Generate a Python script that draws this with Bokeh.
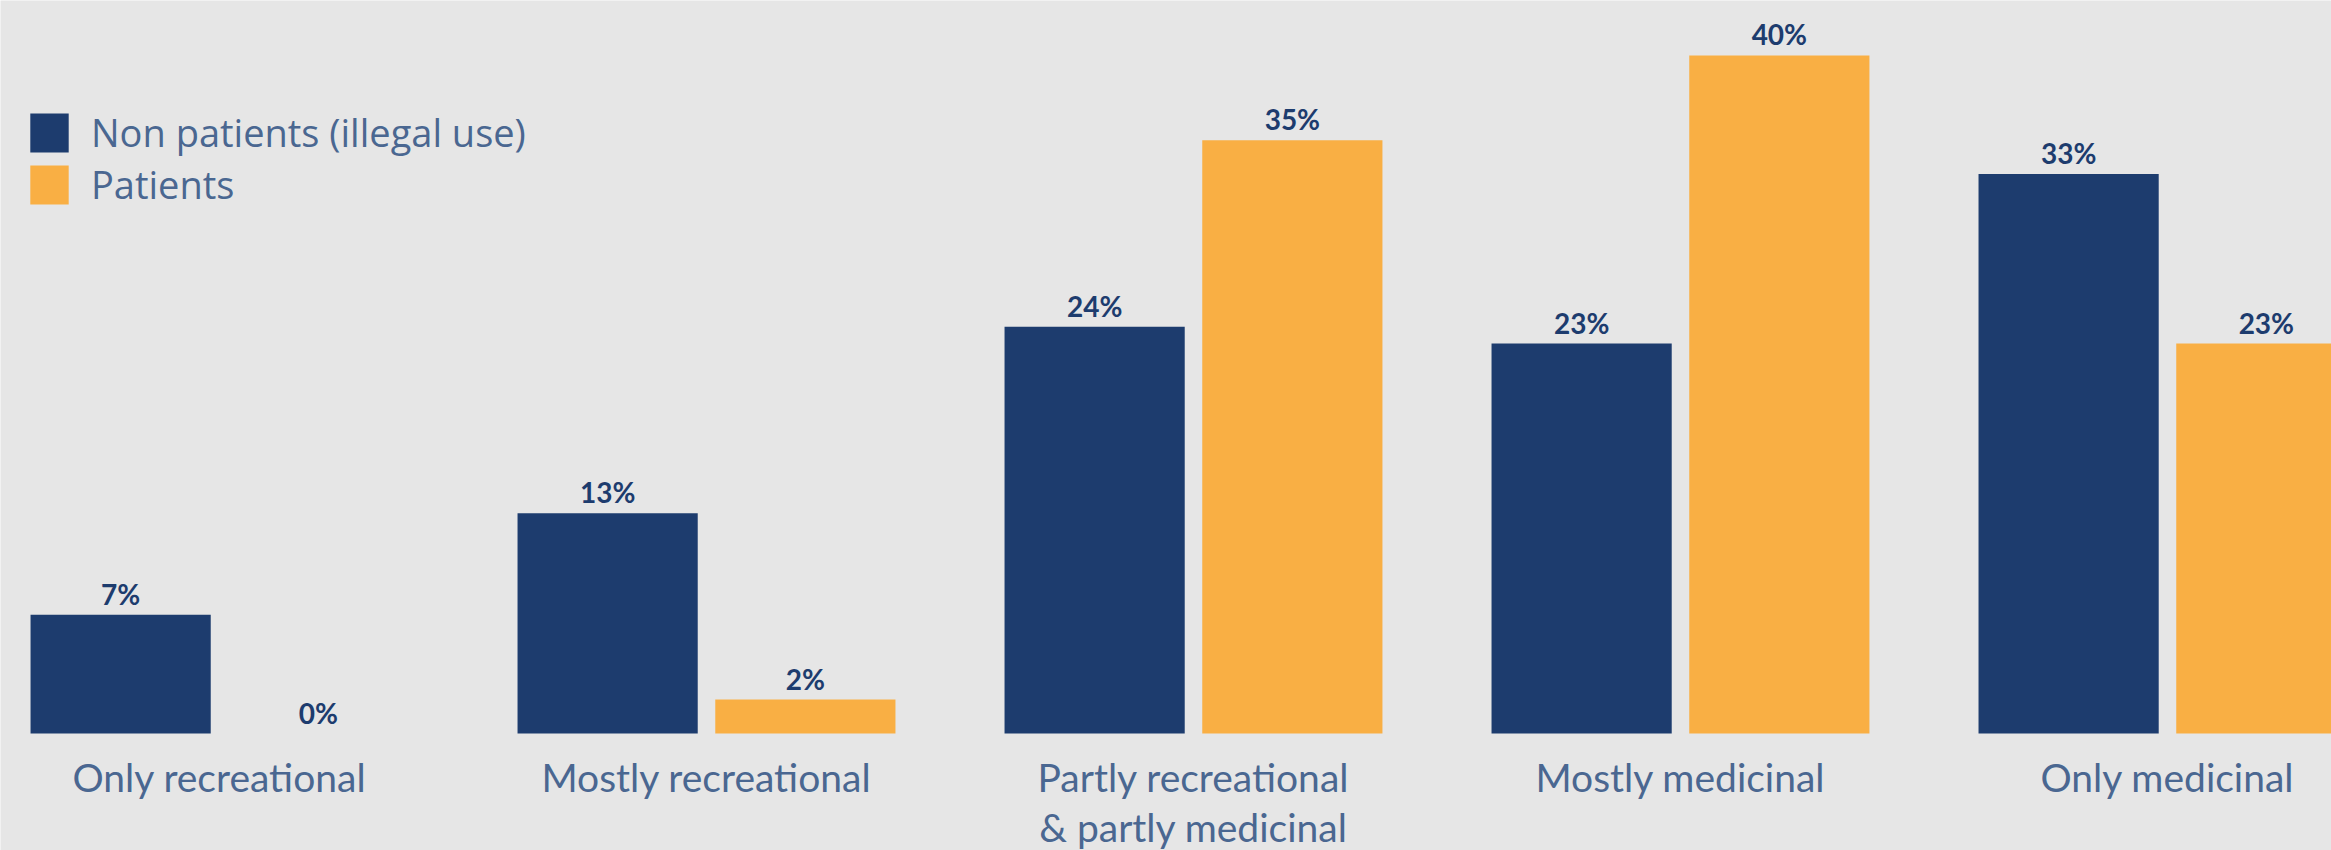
import numpy as np
from bokeh.plotting import figure
from bokeh.models import ColumnDataSource, Range1d, Legend, LegendItem
from bokeh.transform import dodge
from bokeh.core.properties import value
from bokeh.embed import file_html
from bokeh.resources import INLINE

categories = ["Only recreational", "Mostly recreational",
              "Partly recreational\n& partly medicinal",
              "Mostly medicinal", "Only medicinal"]
non_patients = [7, 13, 24, 23, 33]
patients = [0, 2, 35, 40, 23]
series_names = ["Non patients (illegal use)", "Patients"]

NAVY = "#1d3c6e"
ORANGE = "#f9af44"
BG = "#e6e6e6"
LABEL = "#4a6791"

xs = list(range(len(categories)))
lines = [c.split("\n") for c in categories]
line1 = [l[0] for l in lines]
line2 = [l[1] if len(l) > 1 else "" for l in lines]

src = ColumnDataSource(dict(
    x=xs, np_=non_patients, pt=patients,
    np_lbl=[f"{v}%" for v in non_patients],
    pt_lbl=[f"{v}%" for v in patients],
    zero=[0] * len(xs), line1=line1, line2=line2,
))

W, H = 2331, 850
p = figure(width=W, height=H, output_backend="svg", toolbar_location=None,
           x_axis_type=None, y_axis_type=None,
           x_range=Range1d(-0.4497, 4.3368), y_range=Range1d(-6.90, 43.24),
           min_border=0, min_border_left=0, min_border_right=0,
           min_border_top=0, min_border_bottom=0)
p.background_fill_color = BG
p.border_fill_color = BG
p.outline_line_color = None
p.xgrid.visible = False
p.ygrid.visible = False

off = 0.203
bw = 0.37
r1 = p.vbar(x=dodge("x", -off), top="np_", width=bw, source=src,
            fill_color=NAVY, line_color=None)
r2 = p.vbar(x=dodge("x", off), top="pt", width=bw, source=src,
            fill_color=ORANGE, line_color=None)

common = dict(text_font=value("Lato"), text_font_style="bold",
              text_font_size="28px", text_color=NAVY,
              text_align="center", text_baseline="alphabetic", source=src)
p.text(x=dodge("x", -off), y="np_", text="np_lbl", y_offset=-21, **common)
p.text(x=dodge("x", off), y="pt", text="pt_lbl", y_offset=-21, **common)

cat = dict(text_font=value("Lato"), text_font_size="39px", text_color=LABEL,
           text_align="center", text_baseline="alphabetic", source=src)
p.text(x="x", y="zero", text="line1", y_offset=43, **cat)
p.text(x="x", y="zero", text="line2", y_offset=93, **cat)

legend = Legend(items=[LegendItem(label=series_names[0], renderers=[r1]),
                       LegendItem(label=series_names[1], renderers=[r2])],
                location=(25, 640), orientation="vertical",
                glyph_width=48, glyph_height=49, label_height=49,
                spacing=0, padding=0, margin=0, label_standoff=18,
                label_text_font="Open Sans", label_text_font_size="38px",
                label_text_color=LABEL, border_line_color=None,
                background_fill_alpha=0)
p.add_layout(legend, "center")

open("out.html", "w").write(file_html(p, INLINE))
